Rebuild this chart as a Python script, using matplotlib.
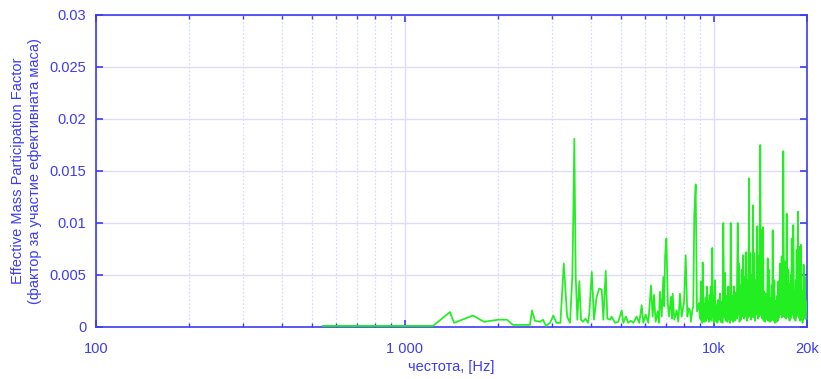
import matplotlib
matplotlib.use("Agg")
import matplotlib.pyplot as plt
import matplotlib.ticker as mticker

plt.rcParams["font.family"] = ["Liberation Sans", "DejaVu Sans"]

BLUE = "#3c3cf2"
GRID = "#dcdcfa"

# modal frequencies [Hz] and effective mass participation factors
freq_low = [543, 650, 780, 900, 1030, 1130, 1232]
mpf_low = [0.00008, 0.00008, 0.00007, 0.00008, 0.00007, 0.00008, 0.00008]

# up to 9 kHz
freq_mid = [
    543, 700, 900, 1100, 1232, 1398, 1441, 1660, 1802, 2000,
    2139, 2236, 2538, 2576, 2634, 2735, 2797, 2859, 2946, 3022,
    3090, 3184, 3265, 3348, 3420, 3479, 3505, 3531, 3569, 3612,
    3667, 3712, 3767, 3838, 3911, 3949, 4022, 4090, 4171, 4254,
    4332, 4384, 4463, 4517, 4607, 4666, 4782, 4901, 5027, 5087,
    5189, 5279, 5376, 5482, 5621, 5731, 5835, 5905, 6012, 6131,
    6253, 6333, 6395, 6476, 6574, 6630, 6687, 6773, 6854, 6900,
    6947, 7015, 7089, 7150, 7258, 7310, 7350, 7439, 7574, 7667,
    7762, 7861, 8000, 8100, 8199, 8280, 8361, 8420, 8506, 8570,
    8634, 8725, 8810, 8943,
]
mpf_mid = [
    0.0001, 0.0001, 0.0001, 0.0001, 0.0001, 0.00144, 0.0004, 0.0011, 0.0005, 0.0007,
    0.0007, 0.0002, 0.0002, 0.0016, 0.0006, 0.0005, 0.0007, 0.0001, 0.0004, 0.0011,
    0.0004, 0.0004, 0.0061, 0.0010, 0.0004, 0.0048, 0.0106, 0.0181, 0.0048, 0.0007,
    0.0044, 0.0007, 0.0005, 0.0008, 0.0004, 0.0013, 0.0053, 0.0007, 0.0029, 0.0037,
    0.0036, 0.0007, 0.0054, 0.0008, 0.0007, 0.0010, 0.0004, 0.0005, 0.0016, 0.0004,
    0.0010, 0.0004, 0.0006, 0.0004, 0.0010, 0.0004, 0.0021, 0.0004, 0.0012, 0.0004,
    0.0040, 0.0010, 0.0031, 0.0005, 0.0015, 0.0004, 0.0034, 0.0010, 0.0048, 0.0020,
    0.0068, 0.0085, 0.0023, 0.0010, 0.0029, 0.0008, 0.0032, 0.0007, 0.0016, 0.0005,
    0.0032, 0.0010, 0.0024, 0.0069, 0.0010, 0.0018, 0.0016, 0.0005, 0.0016, 0.0020,
    0.0108, 0.0137, 0.0015, 0.0023,
]

# dense band 9 kHz - 20 kHz
freq_hi = [
    9010, 9045, 9078, 9110, 9140, 9170, 9193, 9250, 9305, 9350,
    9390, 9430, 9473, 9530, 9589, 9630, 9675, 9720, 9757, 9820,
    9876, 9930, 9980, 10020, 10070, 10130, 10198, 10260, 10323, 10390,
    10457, 10520, 10591, 10650, 10720, 10790, 10855, 10920, 10991, 11060,
    11129, 11180, 11225, 11280, 11326, 11400, 11463, 11530, 11608, 11680,
    11757, 11840, 11934, 11990, 12047, 12100, 12165, 12230, 12293, 12330,
    12370, 12441, 12520, 12600, 12660, 12722, 12790, 12857, 12920, 12979,
    13040, 13106, 13180, 13245, 13310, 13372, 13440, 13505, 13580, 13646,
    13730, 13813, 13890, 13958, 14030, 14119, 14190, 14269, 14340, 14407,
    14480, 14548, 14640, 14733, 14830, 14920, 14990, 15064, 15160, 15257,
    15310, 15370, 15430, 15485, 15580, 15675, 15770, 15873, 15940, 16010,
    16080, 16145, 16250, 16353, 16460, 16562, 16610, 16660, 16700, 16762,
    16850, 16937, 17000, 17060, 17120, 17194, 17300, 17405, 17450, 17500,
    17560, 17619, 17680, 17730, 17790, 17844, 17950, 18060, 18170, 18290,
    18350, 18400, 18460, 18520, 18610, 18699, 18790, 18878, 18930, 18977,
    19020, 19050, 19090, 19119, 19210, 19305, 19350, 19400, 19450, 19506,
    19600, 19698, 19780, 19850, 19950,
]
mpf_hi = [
    0.0008, 0.0025, 0.0044, 0.0006, 0.0015, 0.0004, 0.0062, 0.0006, 0.0022, 0.0005,
    0.0028, 0.0006, 0.0039, 0.0008, 0.0025, 0.0005, 0.0031, 0.0008, 0.0039, 0.0006,
    0.0076, 0.0010, 0.0030, 0.0004, 0.0045, 0.0006, 0.0021, 0.0004, 0.0026, 0.0007,
    0.0032, 0.0005, 0.0024, 0.0004, 0.0100, 0.0009, 0.0052, 0.0006, 0.0030, 0.0005,
    0.0039, 0.0008, 0.0025, 0.0004, 0.0100, 0.0007, 0.0030, 0.0005, 0.0039, 0.0006,
    0.0033, 0.0008, 0.0100, 0.0012, 0.0061, 0.0005, 0.0040, 0.0007, 0.0055, 0.0010,
    0.0035, 0.0069, 0.0008, 0.0048, 0.0010, 0.0072, 0.0006, 0.0045, 0.0009, 0.0143,
    0.0011, 0.0071, 0.0007, 0.0050, 0.0010, 0.0117, 0.0009, 0.0071, 0.0006, 0.0045,
    0.0012, 0.0097, 0.0008, 0.0068, 0.0010, 0.0175, 0.0012, 0.0093, 0.0008, 0.0096,
    0.0006, 0.0034, 0.0005, 0.0032, 0.0007, 0.0066, 0.0006, 0.0055, 0.0005, 0.0028,
    0.0006, 0.0040, 0.0008, 0.0093, 0.0006, 0.0045, 0.0004, 0.0025, 0.0005, 0.0030,
    0.0006, 0.0044, 0.0009, 0.0061, 0.0012, 0.0068, 0.0009, 0.0035, 0.0010, 0.0169,
    0.0012, 0.0063, 0.0009, 0.0035, 0.0008, 0.0109, 0.0010, 0.0055, 0.0009, 0.0042,
    0.0006, 0.0029, 0.0008, 0.0050, 0.0010, 0.0085, 0.0012, 0.0098, 0.0008, 0.0035,
    0.0006, 0.0045, 0.0010, 0.0074, 0.0012, 0.0111, 0.0010, 0.0077, 0.0008, 0.0035,
    0.0006, 0.0040, 0.0010, 0.0079, 0.0008, 0.0030, 0.0004, 0.0035, 0.0008, 0.0060,
    0.0010, 0.0048, 0.0008, 0.0025, 0.0015,
]

x_ticks = [100, 1000, 10000, 20000]
x_tick_labels = ["100", "1 000", "10k", "20k"]
x_minor = [200, 300, 400, 500, 600, 700, 800, 900,
           2000, 3000, 4000, 5000, 6000, 7000, 8000, 9000]
y_ticks = [0, 0.005, 0.01, 0.015, 0.02, 0.025, 0.03]
y_tick_labels = ["0", "0.005", "0.01", "0.015", "0.02", "0.025", "0.03"]

freq = freq_mid + freq_hi
mpf = mpf_mid + mpf_hi

fig = plt.figure(figsize=(8.21, 3.79), dpi=100)
ax = fig.add_axes([96 / 821, 52 / 379, 711 / 821, 312 / 379])

ax.plot(freq_low, mpf_low, color="#009060", lw=1.3, zorder=3)
ax.plot(freq, mpf, color="#22ee22", lw=1.25, zorder=4)

ax.set_xscale("log")
ax.set_xlim(100, 20000)
ax.set_ylim(0, 0.03)

ax.xaxis.set_major_locator(mticker.FixedLocator(x_ticks))
ax.xaxis.set_major_formatter(mticker.FixedFormatter(x_tick_labels))
ax.xaxis.set_minor_locator(mticker.FixedLocator(x_minor))
ax.xaxis.set_minor_formatter(mticker.NullFormatter())
ax.set_yticks(y_ticks)
ax.set_yticklabels(y_tick_labels)

ax.grid(True, which="major", color=GRID, lw=1.0, ls="-", zorder=0)
ax.grid(True, which="minor", axis="x", color=GRID, lw=0.9, ls=(0, (1.5, 1.5)), zorder=0)
ax.set_axisbelow(True)

for sp in ax.spines.values():
    sp.set_color(BLUE)
    sp.set_linewidth(1.2)

ax.tick_params(which="both", direction="in", top=True, right=True,
               color=BLUE, labelcolor=BLUE, labelsize=10.5)
ax.tick_params(which="major", length=5, width=1.2)
ax.tick_params(which="minor", length=3, width=1.0)
ax.tick_params(axis="x", which="major", pad=11)
ax.tick_params(axis="y", which="major", pad=7)

ax.set_xlabel("честота, [Hz]", color=BLUE, fontsize=10.5, labelpad=3)
ax.set_ylabel("Effective Mass Participation Factor\n(фактор за участие ефективната маса)",
              color=BLUE, fontsize=10.5, labelpad=5, linespacing=1.35)

fig.savefig("out.png", dpi=100)
